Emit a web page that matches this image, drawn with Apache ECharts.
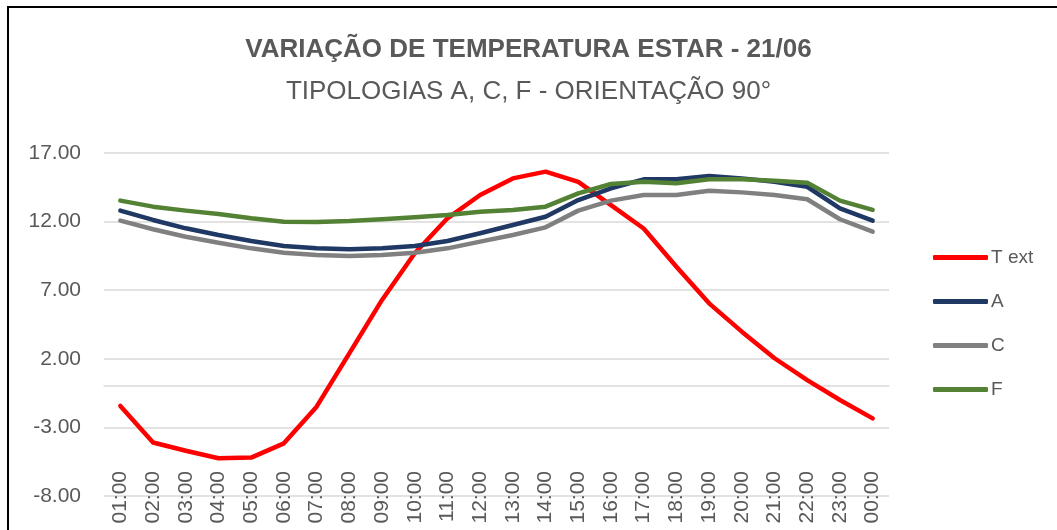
<!DOCTYPE html>
<html>
<head>
<meta charset="utf-8">
<style>
  html, body { margin: 0; padding: 0; background: #fff; }
  #chart { width: 1057px; height: 530px; }
</style>
<script src="https://cdn.jsdelivr.net/npm/echarts@6/dist/echarts.min.js"></script>
</head>
<body>
<div id="chart"></div>
<script>
// horas do dia
var hours = ['01:00', '02:00', '03:00', '04:00', '05:00', '06:00', '07:00', '08:00',
  '09:00', '10:00', '11:00', '12:00', '13:00', '14:00', '15:00', '16:00',
  '17:00', '18:00', '19:00', '20:00', '21:00', '22:00', '23:00', '00:00'];

var tExt = [-1.44, -4.1, -4.7, -5.25, -5.2, -4.16, -1.49, 2.4, 6.29, 9.69, 12.24, 13.94,
  15.15, 15.64, 14.9, 13.2, 11.5, 8.71, 6.04, 3.98, 2.04, 0.45, -1.0, -2.34];
var tipoA = [12.8, 12.12, 11.51, 11.02, 10.59, 10.22, 10.05, 9.98, 10.05, 10.22, 10.59, 11.15,
  11.75, 12.35, 13.57, 14.43, 15.08, 15.08, 15.32, 15.15, 14.9, 14.54, 12.97, 12.07];
var tipoC = [12.07, 11.44, 10.9, 10.46, 10.05, 9.73, 9.57, 9.49, 9.57, 9.73, 10.05, 10.54,
  11.02, 11.58, 12.8, 13.53, 13.94, 13.94, 14.25, 14.13, 13.94, 13.63, 12.17, 11.27];
var tipoF = [13.53, 13.09, 12.8, 12.55, 12.24, 11.99, 11.97, 12.04, 12.17, 12.31, 12.48, 12.72,
  12.85, 13.09, 14.06, 14.74, 14.9, 14.79, 15.08, 15.08, 14.98, 14.84, 13.53, 12.85];

var chart = echarts.init(document.getElementById('chart'));

function linha(nome, dados, cor) {
  return {
    name: nome,
    type: 'line',
    data: dados,
    showSymbol: false,
    symbol: 'none',
    lineStyle: { color: cor, width: 4.5, cap: 'round', join: 'round' },
    itemStyle: { color: cor },
    emphasis: { disabled: true }
  };
}

var option = {
  backgroundColor: '#ffffff',
  animation: false,
  textStyle: { fontFamily: 'Liberation Sans' },
  title: [{
    text: 'VARIAÇÃO DE TEMPERATURA ESTAR - 21/06',
    left: 'center',
    top: 32,
    textStyle: { fontSize: 26, fontWeight: 'bold', color: '#595959', fontFamily: 'Liberation Sans' }
  }, {
    text: 'TIPOLOGIAS A, C, F - ORIENTAÇÃO 90°',
    left: 'center',
    top: 74,
    textStyle: { fontSize: 26, fontWeight: 'normal', color: '#595959', fontFamily: 'Liberation Sans' }
  }],
  graphic: [{
    type: 'rect',
    shape: { x: 8, y: 7, width: 1100, height: 600 },
    style: { fill: 'none', stroke: '#000', lineWidth: 2 },
    silent: true
  }],
  legend: {
    orient: 'vertical',
    left: 928,
    top: 243,
    itemWidth: 55,
    itemHeight: 5,
    itemGap: 25,
    icon: 'roundRect',
    textStyle: { fontSize: 19, color: '#595959', padding: [0, 0, 0, -2] },
    data: ['T ext', 'A', 'C', 'F']
  },
  grid: { left: 104, right: 168, top: 153, bottom: 34, containLabel: false, outerBoundsMode: 'none' },
  xAxis: {
    type: 'category',
    data: hours,
    boundaryGap: true,
    axisLine: { lineStyle: { color: '#d9d9d9', width: 1.5 } },
    axisTick: { show: false },
    // rótulos sobrepostos à linha do eixo, como no original
    axisLabel: { rotate: 90, color: '#595959', fontSize: 21, margin: -25, interval: 0 }
  },
  yAxis: {
    type: 'value',
    min: -8,
    max: 17,
    interval: 5,
    axisLine: { show: false },
    axisTick: { show: false },
    splitLine: { lineStyle: { color: '#d9d9d9', width: 1.5 } },
    axisLabel: {
      color: '#595959',
      fontSize: 21,
      margin: 23,
      formatter: function (v) { return v.toFixed(2); }
    }
  },
  series: [
    linha('T ext', tExt, '#ff0000'),
    linha('A', tipoA, '#203864'),
    linha('C', tipoC, '#808080'),
    linha('F', tipoF, '#548235')
  ]
};

chart.setOption(option);
</script>
</body>
</html>
